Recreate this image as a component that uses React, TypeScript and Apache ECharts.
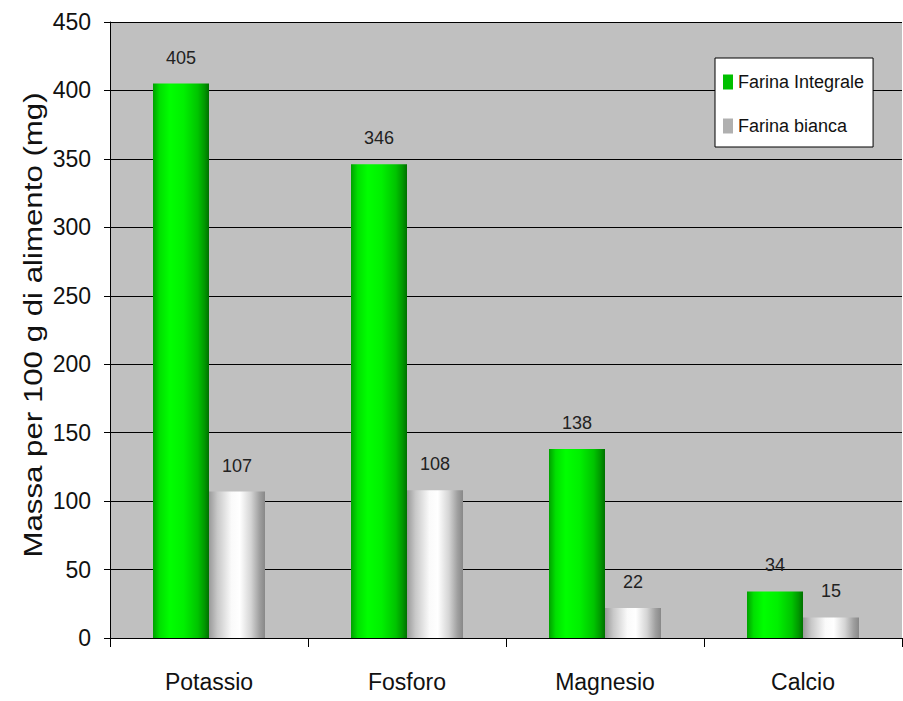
import React, { useEffect, useRef } from "react";
import * as echarts from "echarts";

const categories = ["Potassio", "Fosforo", "Magnesio", "Calcio"];
const integrale = [405, 346, 138, 34];
const bianca = [107, 108, 22, 15];
const seriesNames = ["Farina Integrale", "Farina bianca"];
const yTitle = "Massa per 100 g di alimento (mg)";

const FONT = '"Liberation Sans", Arial, sans-serif';

export default function App() {
  const ref = useRef<HTMLDivElement>(null);
  useEffect(() => {
    if (!ref.current) return;
    const chart = echarts.init(ref.current, null, { renderer: "svg" });
    const greenGrad = new echarts.graphic.LinearGradient(0, 0, 1, 0, [
      { offset: 0, color: "#00a000" },
      { offset: 0.12, color: "#00e000" },
      { offset: 0.3, color: "#00ff00" },
      { offset: 0.55, color: "#00f000" },
      { offset: 0.8, color: "#00c400" },
      { offset: 0.92, color: "#009800" },
      { offset: 1, color: "#007000" },
    ]);
    const whiteGrad = new echarts.graphic.LinearGradient(0, 0, 1, 0, [
      { offset: 0, color: "#9a9a9a" },
      { offset: 0.15, color: "#c8c8c8" },
      { offset: 0.4, color: "#fafafa" },
      { offset: 0.55, color: "#ffffff" },
      { offset: 0.75, color: "#d4d4d4" },
      { offset: 0.9, color: "#a0a0a0" },
      { offset: 1, color: "#888888" },
    ]);
    const labelStyle = {
      show: true,
      position: "top" as const,
      distance: 17,
      fontSize: 18,
      fontFamily: FONT,
      color: "#222",
    };
    chart.setOption({
      animation: false,
      backgroundColor: "#ffffff",
      grid: {
        left: 110,
        right: 1,
        top: 22,
        bottom: 63,
        show: true,
        backgroundColor: "#c0c0c0",
        borderWidth: 0,
        containLabel: false,
      },
      legend: {
        orient: "vertical",
        left: 715,
        top: 58,
        backgroundColor: "#ffffff",
        borderColor: "#000000",
        borderWidth: 1,
        padding: [15, 9, 12, 8],
        itemGap: 26,
        itemWidth: 10,
        itemHeight: 15,
        icon: "rect",
        textStyle: { fontSize: 18, fontFamily: FONT, color: "#111" },
        data: [
          { name: seriesNames[0], itemStyle: { color: "#00c000" } },
          { name: seriesNames[1], itemStyle: { color: "#b0b0b0" } },
        ],
      },
      xAxis: {
        type: "category",
        data: categories,
        axisLine: { show: true, lineStyle: { color: "#000", width: 1 } },
        axisTick: { show: true, length: 9, interval: 0, lineStyle: { color: "#000" } },
        axisLabel: { fontSize: 23, fontFamily: FONT, color: "#111", margin: 32 },
      },
      yAxis: {
        type: "value",
        min: 0,
        max: 450,
        interval: 50,
        axisLine: { show: true, lineStyle: { color: "#000", width: 1 } },
        axisTick: { show: true, length: 6, lineStyle: { color: "#000" } },
        axisLabel: { fontSize: 23, fontFamily: FONT, color: "#111", margin: 19 },
        splitLine: { show: true, lineStyle: { color: "#000", width: 1 } },
      },
      series: [
        {
          name: seriesNames[0],
          type: "bar",
          data: integrale,
          barWidth: 56,
          barGap: "0%",
          itemStyle: { color: greenGrad },
          label: labelStyle,
        },
        {
          name: seriesNames[1],
          type: "bar",
          data: bianca,
          barWidth: 56,
          barGap: "0%",
          itemStyle: { color: whiteGrad },
          label: labelStyle,
        },
      ],
      graphic: [
        {
          type: "text",
          x: 33,
          y: 325,
          rotation: Math.PI / 2,
          scaleX: 1.25,
          style: {
            text: yTitle,
            fontSize: 25,
            fontFamily: FONT,
            fill: "#111",
            align: "center",
            verticalAlign: "middle",
          },
        },
      ],
    });
    return () => chart.dispose();
  }, []);
  return (
    <div
      ref={ref}
      style={{ position: "absolute", left: 0, top: 0, width: 903, height: 701 }}
    />
  );
}
